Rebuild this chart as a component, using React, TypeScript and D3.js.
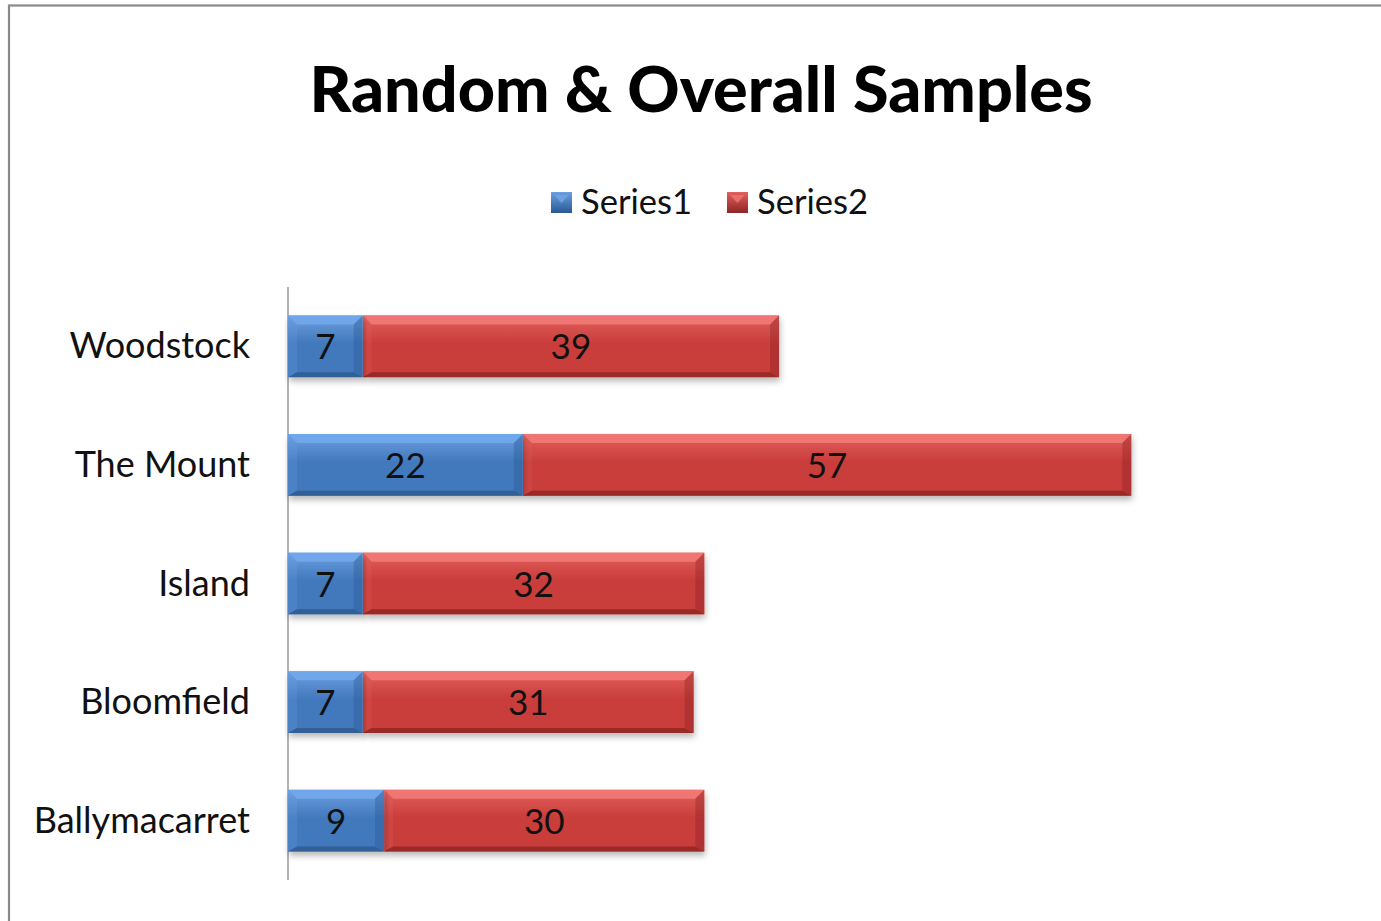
import React from "react";
import * as d3 from "d3";

const categories = ["Woodstock", "The Mount", "Island", "Bloomfield", "Ballymacarret"];
const series1 = [7, 22, 7, 7, 9];
const series2 = [39, 57, 32, 31, 30];
const seriesNames = ["Series1", "Series2"];

const W = 1381;
const H = 921;

const palettes = [
  { base: "#4279bd", light: "#6c9fe0", top: "#70a6ea", dark: "#2a5a94", bottom: "#2c5588" },
  { base: "#c93d3b", light: "#e2605d", top: "#ef7672", dark: "#8e2624", bottom: "#8a2422" },
];

function BevelBar({ x0, x1, y0, y1, p, id }: any) {
  const b = Math.min(9, (x1 - x0) / 2);
  const bb = 5;
  return (
    <g filter="url(#shadow)">
      <rect x={x0} y={y0} width={x1 - x0} height={y1 - y0} fill={`url(#face${id})`} />
      <polygon
        points={`${x0},${y0} ${x1},${y0} ${x1 - b},${y0 + b} ${x0 + b},${y0 + b}`}
        fill={p.top}
      />
      <polygon
        points={`${x1},${y0} ${x1},${y1} ${x1 - b},${y1 - bb} ${x1 - b},${y0 + b}`}
        fill={p.dark}
        opacity={0.4}
      />
      <polygon
        points={`${x0},${y0} ${x0 + b},${y0 + b} ${x0 + b},${y1 - bb} ${x0},${y1}`}
        fill={p.light}
        opacity={0.25}
      />
      <polygon
        points={`${x0},${y1} ${x0 + b},${y1 - bb} ${x1 - b},${y1 - bb} ${x1},${y1}`}
        fill={p.bottom}
        opacity={0.75}
      />
    </g>
  );
}

export default function App() {
  const x = d3.scaleLinear().domain([0, 80]).range([288, 1142]);
  const y = d3.scaleBand<string>().domain(categories).range([287, 880]).paddingInner(0.48).paddingOuter(0.24);
  const bw = y.bandwidth();
  const font = "Lato, 'Open Sans', sans-serif";

  return (
    <svg width={W} height={H} style={{ position: "absolute", left: 0, top: 0, background: "#fff" }}>
      <defs>
        <filter id="shadow" x="-5%" y="-30%" width="110%" height="170%">
          <feDropShadow dx="1" dy="4" stdDeviation="3" floodColor="#000" floodOpacity="0.28" />
        </filter>
        {palettes.map((p, i) => (
          <linearGradient key={i} id={`face${i}`} x1="0" y1="0" x2="0" y2="1">
            <stop offset="0" stopColor={p.light} />
            <stop offset="0.45" stopColor={p.base} />
            <stop offset="1" stopColor={p.base} />
          </linearGradient>
        ))}
        {palettes.map((p, i) => (
          <linearGradient key={"l" + i} id={`leg${i}`} x1="0" y1="0" x2="0" y2="1">
            <stop offset="0" stopColor={p.light} />
            <stop offset="1" stopColor={p.dark} />
          </linearGradient>
        ))}
      </defs>
      <rect x={0} y={0} width={W} height={H} fill="#fff" />
      <rect x={9} y={5.5} width={W + 20} height={H + 20} fill="none" stroke="#8a8a8a" strokeWidth={2.2} />

      <text
        x={701}
        y={112}
        textAnchor="middle"
        fontFamily={font}
        fontWeight="900"
        fontSize={62}
        fill="#000"
        textLength={783}
        lengthAdjust="spacingAndGlyphs"
      >
        Random &amp; Overall Samples
      </text>

      {seriesNames.map((s, i) => {
        const lx = i === 0 ? 551 : 727;
        return (
          <g key={s}>
            <rect x={lx} y={192} width={21} height={21} fill={`url(#leg${i})`} />
            <polygon points={`${lx + 3},${195} ${lx + 18},${195} ${lx + 10.5},${203}`} fill={palettes[i].top} opacity={0.8} />
            <text x={lx + 30} y={214} fontFamily={font} fontSize={34} fill="#111" textLength={111} lengthAdjust="spacingAndGlyphs">
              {s}
            </text>
          </g>
        );
      })}

      <line x1={288} x2={288} y1={287} y2={880} stroke="#8a8a8a" strokeWidth={1.3} />

      {categories.map((c, i) => {
        const y0 = y(c)!;
        const y1 = y0 + bw;
        const a = series1[i];
        const b = series2[i];
        const xa0 = x(0), xa1 = x(a), xb1 = x(a + b);
        const cy = y0 + bw / 2;
        return (
          <g key={c}>
            <text x={250} y={cy + 12} textAnchor="end" fontFamily={font} fontSize={36} fill="#111">
              {c}
            </text>
            <BevelBar x0={xa1} x1={xb1} y0={y0} y1={y1} p={palettes[1]} id={1} />
            <BevelBar x0={xa0} x1={xa1} y0={y0} y1={y1} p={palettes[0]} id={0} />
            <text x={(xa0 + xa1) / 2} y={cy + 13} textAnchor="middle" fontFamily={font} fontSize={35} fill="#111">
              {a}
            </text>
            <text x={(xa1 + xb1) / 2} y={cy + 13} textAnchor="middle" fontFamily={font} fontSize={35} fill="#111">
              {b}
            </text>
          </g>
        );
      })}
    </svg>
  );
}
